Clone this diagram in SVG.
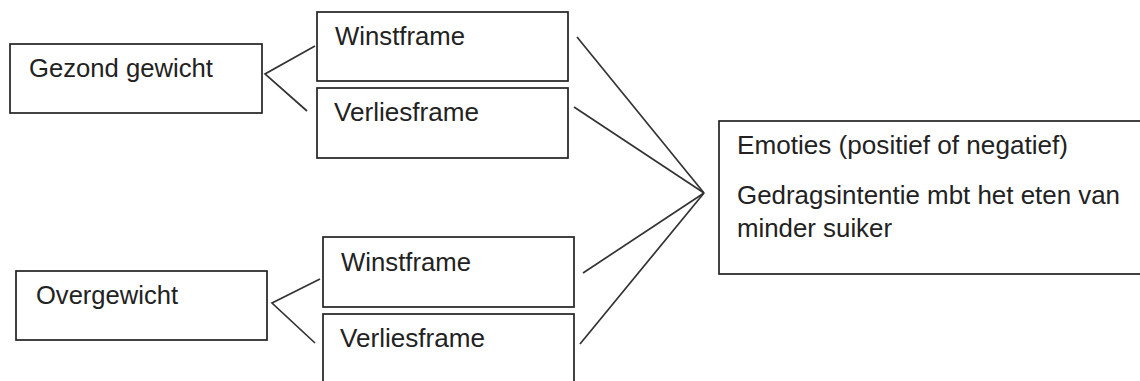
<svg xmlns="http://www.w3.org/2000/svg" width="1140" height="381" viewBox="0 0 1140 381">
<style>
.box{fill:#fff;stroke:#222;stroke-width:1.7}
.lbl{font-family:"Liberation Sans",Arial,sans-serif;font-size:25.5px;fill:#222}
.con{fill:none;stroke:#333;stroke-width:1.7}
</style>
<rect width="1140" height="381" fill="#fff"/>
<g id="connectors">
<polyline class="con" points="315,46 265,74 307,111"/>
<polyline class="con" points="320,279 272,303 315,343"/>
<line class="con" x1="577" y1="37" x2="704" y2="193"/>
<line class="con" x1="574" y1="107" x2="704" y2="193"/>
<line class="con" x1="583" y1="273" x2="704" y2="193"/>
<line class="con" x1="580" y1="344" x2="704" y2="193"/>
</g>
<g id="gezond">
<rect class="box" x="10" y="44" width="252" height="69"/>
<text class="lbl" x="29" y="77" textLength="184" lengthAdjust="spacingAndGlyphs">Gezond gewicht</text>
</g>
<g id="winst1">
<rect class="box" x="317" y="12" width="251" height="69"/>
<text class="lbl" x="335" y="45" textLength="130" lengthAdjust="spacingAndGlyphs">Winstframe</text>
</g>
<g id="verlies1">
<rect class="box" x="317" y="88" width="251" height="70"/>
<text class="lbl" x="334" y="121" textLength="145" lengthAdjust="spacingAndGlyphs">Verliesframe</text>
</g>
<g id="overgewicht">
<rect class="box" x="16" y="271" width="251" height="69"/>
<text class="lbl" x="36" y="304" textLength="142" lengthAdjust="spacingAndGlyphs">Overgewicht</text>
</g>
<g id="winst2">
<rect class="box" x="323" y="237" width="251" height="70"/>
<text class="lbl" x="341" y="271" textLength="130" lengthAdjust="spacingAndGlyphs">Winstframe</text>
</g>
<g id="verlies2">
<rect class="box" x="323" y="314" width="251" height="80"/>
<text class="lbl" x="340" y="347" textLength="145" lengthAdjust="spacingAndGlyphs">Verliesframe</text>
</g>
<g id="emoties">
<rect class="box" x="719" y="121" width="440" height="153"/>
<text class="lbl" x="737" y="154" textLength="331" lengthAdjust="spacingAndGlyphs">Emoties (positief of negatief)</text>
<text class="lbl" x="737" y="204" textLength="383" lengthAdjust="spacingAndGlyphs">Gedragsintentie mbt het eten van</text>
<text class="lbl" x="737" y="237" textLength="155" lengthAdjust="spacingAndGlyphs">minder suiker</text>
</g>
</svg>
